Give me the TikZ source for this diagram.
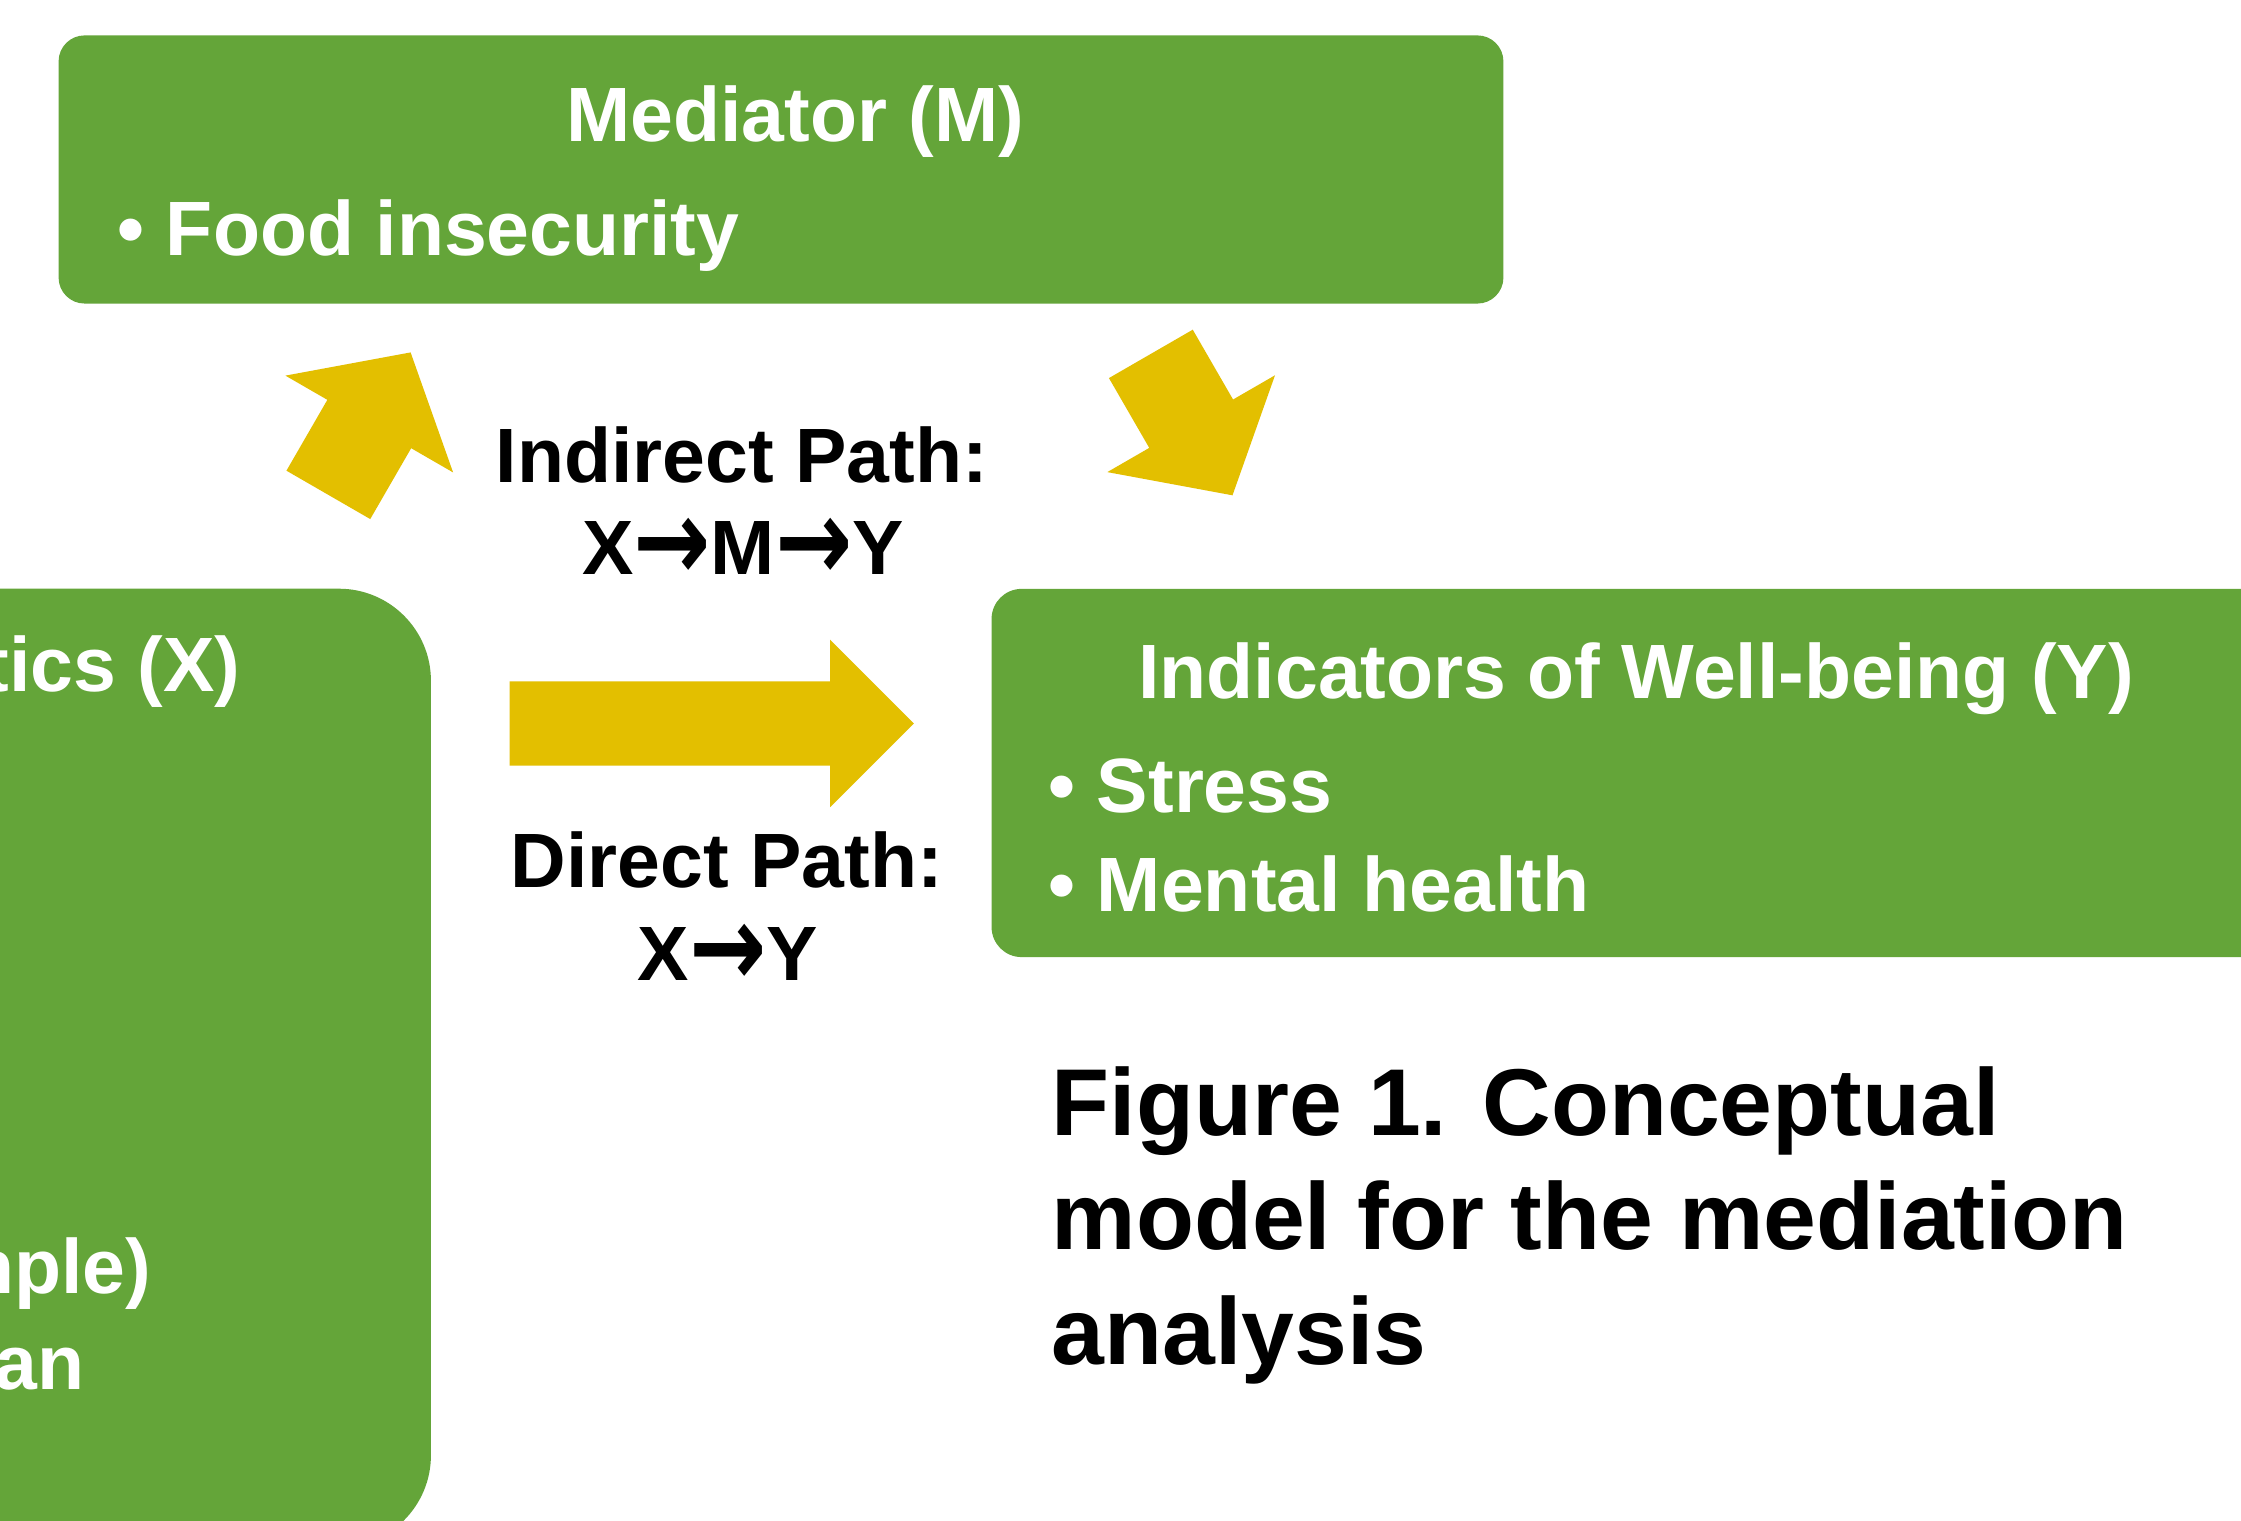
\documentclass[tikz,border=0pt]{standalone}
\usepackage{fontspec}
\usepackage{graphicx}
\setmainfont{Liberation Sans}
\newfontfamily\arrowfont{DejaVu Sans}
\usetikzlibrary{shapes.arrows}

\definecolor{boxgreen}{RGB}{100,165,57}
\definecolor{pathgold}{RGB}{227,191,0}

% arrow between the letters of a path
\newcommand{\pathto}{\raisebox{-0.07em}{\scalebox{1.2}[1.5]{\arrowfont\bfseries →}}}

\tikzset{
    box/.style={fill=boxgreen, inner sep=0pt},
    boxtext/.style={text=white, inner sep=0pt, font=\bfseries\fontsize{21.9}{26}\selectfont},
    pathtext/.style={text=black, inner sep=0pt, anchor=base, font=\bfseries\fontsize{21.9}{26}\selectfont},
    captext/.style={text=black, inner sep=0pt, anchor=base west, font=\bfseries\fontsize{27}{32}\selectfont},
    fatarrow/.style={single arrow, fill=pathgold, inner xsep=0pt, anchor=tail}
}

\begin{document}
\begin{tikzpicture}[x=0.01cm, y=0.01cm]
    \clip (0,0) rectangle (2241,1521);
    \fill[white] (0,0) rectangle (2241,1521);

    % Mediator
    \node[box, rounded corners=0.26cm, minimum width=14.44cm, minimum height=2.68cm] (med) at (781,1351.5) {};
    \node[boxtext, anchor=base] (medtitle) at (795,1379.4) {Mediator (M)};
    \node[boxtext, anchor=base west] (food) at (117,1265) {• Food insecurity};

    % Well-being
    \node[box, rounded corners=0.3cm, minimum width=14cm, minimum height=3.68cm] (well) at (1692,748) {};
    \node[boxtext, anchor=base] (welltitle) at (1636,822) {Indicators of Well-being (Y)};
    \node[boxtext, anchor=base west] (stress) at (1048,708) {• Stress};
    \node[boxtext, anchor=base west] (mental) at (1048,609) {• Mental health};

    % Characteristics
    \node[box, rounded corners=0.92cm, minimum width=8.3cm, minimum height=9.58cm] (demo) at (15.7,453) {};
    \node[boxtext, anchor=base east] (demotitle) at (241,829) {tics (X)};
    \node[boxtext, anchor=base east] (sample) at (152,227) {nple)};
    \node[boxtext, anchor=base east] (an) at (85,131) {an};

    % Paths
    \node[fatarrow, rotate=60, minimum height=1.644cm, minimum width=1.92cm, inner ysep=0.4765cm,
          single arrow head extend=0.484cm, single arrow tip angle=99] (xm) at (328,1025.5) {};
    \node[fatarrow, rotate=-60, minimum height=1.632cm, minimum width=1.92cm, inner ysep=0.4765cm,
          single arrow head extend=0.484cm, single arrow tip angle=99] (my) at (1150.5,1167.7) {};
    \node[fatarrow, minimum height=4.04cm, minimum width=1.66cm, inner ysep=0.415cm,
          single arrow head extend=0.415cm] (xy) at (509,797.5) {};

    \node[pathtext] (indirect) at (742,1038) {Indirect Path:};
    \node[pathtext] (indirectxy) at (743,946) {X\pathto M\pathto Y};
    \node[pathtext] (direct) at (727,633) {Direct Path:};
    \node[pathtext] (directxy) at (728,540) {X\pathto Y};

    % Caption
    \node[captext] (cap1) at (1051,385) {Figure 1. Conceptual};
    \node[captext] (cap2) at (1051,271) {model for the mediation};
    \node[captext] (cap3) at (1051,156) {analysis};
\end{tikzpicture}
\end{document}
